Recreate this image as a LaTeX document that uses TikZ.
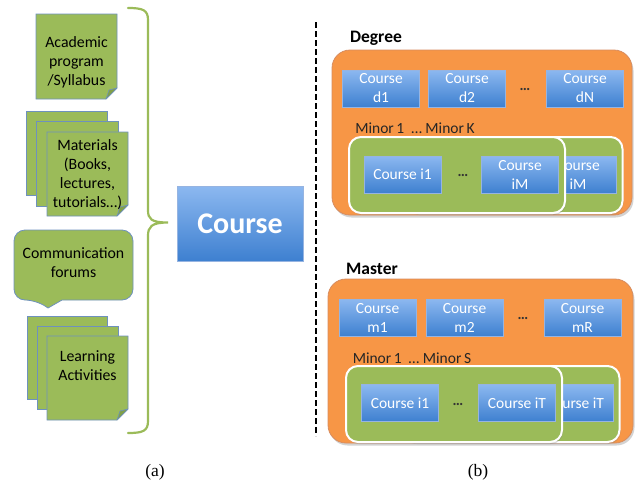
\documentclass[tikz,border=0pt]{standalone}
\usepackage{fontspec}
\setmainfont{Carlito}
\newfontfamily\capfont{Liberation Serif}
\usetikzlibrary{shadows,backgrounds}
\definecolor{notegreen}{RGB}{155,187,89}
\definecolor{noteedge}{RGB}{110,145,190}
\definecolor{folddark}{RGB}{128,160,72}
\definecolor{bracegreen}{RGB}{155,187,89}
\definecolor{orangebg}{RGB}{247,150,70}
\definecolor{orangeedge}{RGB}{215,140,95}
\definecolor{btop}{RGB}{140,184,240}
\definecolor{bbot}{RGB}{62,128,208}
\definecolor{bedge}{RGB}{150,180,225}
\tikzset{
  notefill/.style={fill=notegreen,draw=noteedge,line width=0.8pt},
  foldfill/.style={fill=folddark,draw=noteedge,line width=0.6pt,line join=round},
  notetext/.style={font=\fontsize{15.8}{19}\selectfont,align=center,text=black,inner sep=0pt},
  bigcourse/.style={shade,top color=btop,bottom color=bbot,draw=bedge,line width=0.6pt,
    minimum width=126pt,minimum height=75pt,inner sep=0pt,text=white,
    font=\fontsize{30}{32}\selectfont\bfseries},
  cbox/.style={shade,top color=btop,bottom color=bbot,draw=bedge,line width=0.6pt,
    minimum width=77pt,minimum height=37pt,inner sep=0pt,text=white,align=center,
    font=\fontsize{15.5}{19}\selectfont},
  groupbox/.style={fill=orangebg,draw=orangeedge,line width=0.8pt,rounded corners=18pt,
    drop shadow={opacity=0.35,shadow xshift=1.5pt,shadow yshift=-2.5pt}},
  minorbox/.style={fill=notegreen,draw=white,line width=2pt,rounded corners=12pt,
    minimum width=216pt,minimum height=76pt,
    drop shadow={opacity=0.3,shadow xshift=1pt,shadow yshift=-2pt}},
  grouplabel/.style={font=\fontsize{17.5}{19}\selectfont\bfseries,text=black,inner sep=0pt},
  minortext/.style={font=\fontsize{15.5}{17}\selectfont,text=black!85,inner sep=0pt},
  dots/.style={font=\fontsize{15}{17}\selectfont\bfseries,text=black!80,inner sep=0pt},
  captext/.style={font=\capfont\fontsize{17.5}{19}\selectfont,inner sep=0pt},
}
\newcommand\plainsheet[4]{%
  \filldraw[notefill] (#1,#2) rectangle (#3,#4);}
\newcommand\foldsheet[4]{%
  \filldraw[notefill] (#1,#2) -- (#3,#2) -- ({#3},{#4-11}) -- ({#3-11},{#4}) -- (#1,#4) -- cycle;
  \filldraw[foldfill] ({#3},{#4-11}) -- ({#3-11},{#4}) -- ({#3-8},{#4-9}) -- cycle;}
\begin{document}
\begin{tikzpicture}[x=1pt,y=-1pt]
\useasboundingbox (0,0) rectangle (635,483);

% ---------- (a) left column ----------
\foldsheet{36}{14}{117}{99}
\node[notetext] (acad) at (76.5,62) {Academic\\program\\/Syllabus};

\plainsheet{26}{111}{107}{195}
\plainsheet{36}{121}{118}{206}
\foldsheet{47}{132}{128}{216}
\node[notetext] (mat) at (87.5,175) {Materials\\(Books,\\lectures,\\tutorials\dots)};

\filldraw[notefill,rounded corners=11pt] (62,300) -- (133,300) -- (133,230) -- (14,230) -- (14,300) -- (36,300) [sharp corners] -- (48,308) -- cycle;
\node[notetext] (comm) at (73.5,263) {Communication\\forums};

\plainsheet{27}{316}{107}{399}
\plainsheet{37}{326}{118}{409}
\foldsheet{47}{336}{128}{420}
\node[notetext] (learn) at (87.5,366) {Learning\\Activities};

\node[bigcourse] (course) at (240,223.5) {Course};

% brace
\coordinate (btop) at (128,8);
\coordinate (bbot) at (128,433);
\coordinate (btip) at (168,222.5);
\draw[bracegreen,line width=2.2pt,line cap=round]
  (btop) .. controls (143,8) and (148,10) .. (148,20) -- (148,210)
  .. controls (148,219) and (151,222.5) .. (btip)
  .. controls (151,222.5) and (148,227) .. (148,236) -- (148,421)
  .. controls (148,431) and (143,433) .. (bbot);

% dashed separator
\coordinate (sepA) at (316,22);
\coordinate (sepB) at (316,436);
\draw[line width=2pt,dash pattern=on 6pt off 3pt] (sepA) -- (sepB);

% ---------- (b) Degree ----------
\node[grouplabel] (deglab) at (376,38.5) {Degree};
\node[groupbox,minimum width=300pt,minimum height=165pt] (degree) at (482,132.5) {};
\node[cbox] (d1) at (381,88.5) {Course\\d1};
\node[cbox] (d2) at (467,88.5) {Course\\d2};
\node[dots] (ddots) at (525,89) {\dots};
\node[cbox] (dN) at (585,88.5) {Course\\dN};
\node[minortext] (degminor) at (415,128) {Minor\,1 \ \dots\ Minor\,K};
\node[minorbox] (dminB) at (514.5,175) {};
\node[cbox] (diMB) at (578,174.5) {Course\\iM};
\node[minorbox] (dminA) at (457,175) {};
\node[cbox] (di1) at (402.5,174.5) {Course i1};
\node[dots] (didots) at (463,175) {\dots};
\node[cbox] (diM) at (520,174.5) {Course\\iM};

% ---------- (b) Master ----------
\node[grouplabel] (maslab) at (372,268.5) {Master};
\node[groupbox,minimum width=305pt,minimum height=164pt] (master) at (480.5,361) {};
\node[cbox] (m1) at (377.5,317.5) {Course\\m1};
\node[cbox] (m2) at (464.5,317.5) {Course\\m2};
\node[dots] (mdots) at (523,318) {\dots};
\node[cbox] (mR) at (582.5,317.5) {Course\\mR};
\node[minortext] (masminor) at (412,358) {Minor\,1 \ \dots\ Minor\,S};
\node[minorbox] (mminB) at (511.5,404) {};
\node[cbox] (miTB) at (575,403) {Course iT};
\node[minorbox] (mminA) at (454,404) {};
\node[cbox] (mi1) at (400,403) {Course i1};
\node[dots] (midots) at (458,404) {\dots};
\node[cbox] (miT) at (517,403) {Course iT};

% captions
\node[captext] (capa) at (155,472) {(a)};
\node[captext] (capb) at (478,472) {(b)};
\end{tikzpicture}
\end{document}
